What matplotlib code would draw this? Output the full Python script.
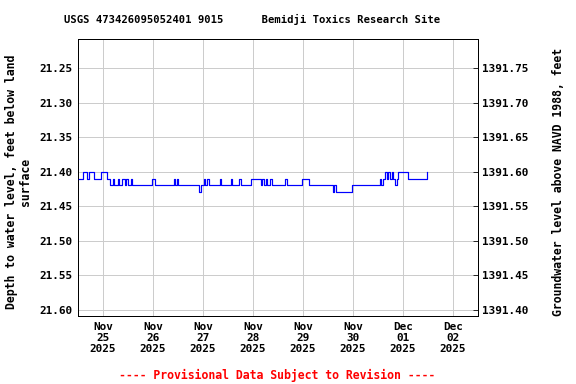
import matplotlib
matplotlib.use("Agg")
import matplotlib.pyplot as plt
import matplotlib.dates as mdates
import numpy as np
import pandas as pd

# hours since 2025-11-25 00:00 at which the level changes, and the new depth value
hours = [-12.0, -9.6, -7.7, -6.7, -4.3, -1.0, 1.9, 3.4, 4.8, 5.3, 7.2, 7.7, 9.1, 10.6,
         11.0, 12.0, 13.4, 13.9, 23.5, 25.0, 34.1, 34.8, 35.5, 36.2, 46.1, 47.0, 48.5,
         49.0, 49.9, 50.9, 56.2, 56.6, 61.4, 61.9, 65.3, 66.0, 71.0, 75.8, 76.3, 77.3,
         78.2, 78.7, 80.2, 80.9, 87.4, 88.1, 95.5, 98.9, 110.4, 111.1, 111.6, 119.5,
         133.0, 133.4, 134.2, 135.4, 136.3, 137.0, 137.8, 138.7, 139.2, 140.4, 140.9,
         141.8, 146.6, 155.5]
depth = [21.41, 21.40, 21.41, 21.40, 21.41, 21.40, 21.41, 21.42, 21.41, 21.42, 21.41,
         21.42, 21.41, 21.42, 21.41, 21.42, 21.41, 21.42, 21.41, 21.42, 21.41, 21.42,
         21.41, 21.42, 21.43, 21.42, 21.41, 21.42, 21.41, 21.42, 21.41, 21.42, 21.41,
         21.42, 21.41, 21.42, 21.41, 21.42, 21.41, 21.42, 21.41, 21.42, 21.41, 21.42,
         21.41, 21.42, 21.41, 21.42, 21.43, 21.42, 21.43, 21.42, 21.41, 21.42, 21.41,
         21.40, 21.41, 21.40, 21.41, 21.40, 21.41, 21.42, 21.41, 21.40, 21.41, 21.40]

left_ticks = [21.25, 21.30, 21.35, 21.40, 21.45, 21.50, 21.55, 21.60]
right_ticks = [1391.40, 1391.45, 1391.50, 1391.55, 1391.60, 1391.65, 1391.70, 1391.75]
datum_offset = 1413.00

title = "USGS 473426095052401 9015      Bemidji Toxics Research Site"
left_label = "Depth to water level, feet below land\nsurface"
right_label = "Groundwater level above NAVD 1988, feet"
footer = "---- Provisional Data Subject to Revision ----"

base = pd.Timestamp("2025-11-25 00:00")
times = [base + pd.Timedelta(hours=h) for h in hours]

mono = "DejaVu Sans Mono"
fig = plt.figure(figsize=(8, 384 / 72), dpi=72)
ax = fig.add_axes([78 / 576, 1 - 316 / 384, 400 / 576, 277 / 384])

ax.plot(times, depth, color="#0000ff", lw=1.2, drawstyle="steps-post", zorder=3)

ymin, ymax = 21.208, 21.609
ax.set_ylim(ymax, ymin)
ax.set_xlim(pd.Timestamp("2025-11-24 12:00"), pd.Timestamp("2025-12-02 12:00"))
ax.xaxis.set_major_locator(mdates.DayLocator())
ax.xaxis.set_major_formatter(mdates.DateFormatter("%b\n%d\n%Y"))
ax.set_yticks(left_ticks)
ax.set_yticklabels([f"{v:.2f}" for v in left_ticks])
ax.grid(True, color="#cccccc", lw=1.0)
ax.set_axisbelow(True)
ax.tick_params(axis="both", length=0, pad=6)
for lbl in ax.get_xticklabels() + ax.get_yticklabels():
    lbl.set_fontfamily(mono)
    lbl.set_fontweight("bold")
    lbl.set_fontsize(11)
for lbl in ax.get_xticklabels():
    lbl.set_horizontalalignment("center")
    lbl.set_linespacing(1.15)
for s in ax.spines.values():
    s.set_linewidth(1.0)

ax2 = ax.twinx()
ax2.set_ylim(datum_offset - ymax, datum_offset - ymin)
ax2.set_yticks(right_ticks)
ax2.set_yticklabels([f"{v:.2f}" for v in right_ticks])
ax2.tick_params(axis="y", direction="in", length=5, pad=4)
for lbl in ax2.get_yticklabels():
    lbl.set_fontfamily(mono)
    lbl.set_fontweight("bold")
    lbl.set_fontsize(11)

fig.text(252 / 576, 1 - 19 / 384, title, ha="center", va="center",
         fontfamily=mono, fontweight="bold", fontsize=10.5)
fig.text(19 / 576, 1 - 182 / 384, left_label, ha="center", va="center", rotation=90,
         fontfamily=mono, fontweight="bold", fontsize=11.5, linespacing=1.1)
fig.text(558 / 576, 1 - 182 / 384, right_label, ha="center", va="center", rotation=90,
         fontfamily=mono, fontweight="bold", fontsize=11.5)
fig.text(277 / 576, 1 - 375 / 384, footer, ha="center", va="center", color="#ff0000",
         fontfamily=mono, fontweight="bold", fontsize=11.5)

fig.savefig("out.png", dpi=72)
